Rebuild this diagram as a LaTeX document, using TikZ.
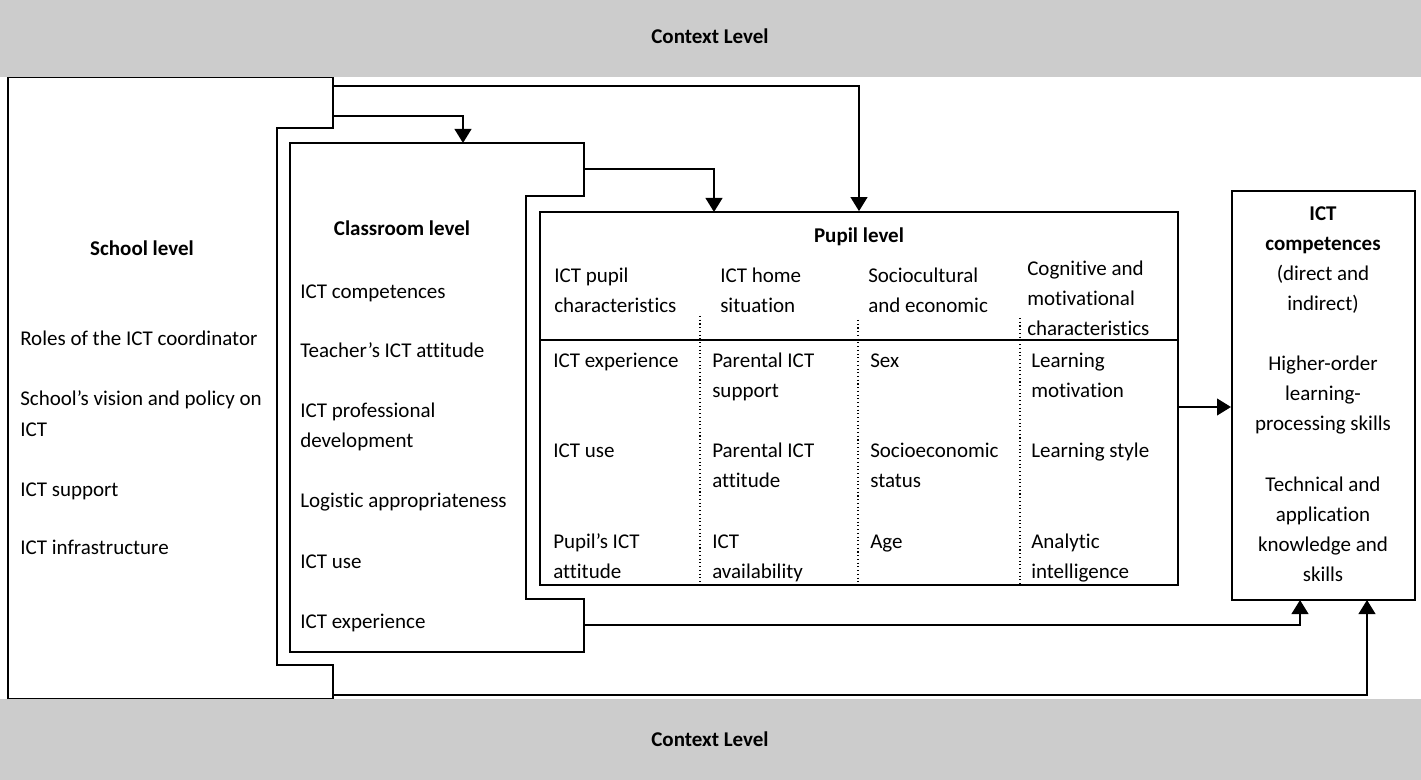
\documentclass[tikz,border=0pt]{standalone}
\usepackage{fontspec}
\setmainfont{Carlito}[Ligatures={TeX,NoCommon}]
\usepackage{tikz}
\usetikzlibrary{arrows.meta}
\usetikzlibrary{fit}

\definecolor{bandgray}{HTML}{CCCCCC}
\newcommand{\txtsize}{\fontsize{15.75}{21}\selectfont}

\begin{document}
\begin{tikzpicture}[
			x=0.75pt, y=-0.75pt,
			every node/.style={inner sep=0pt, font=\txtsize},
			item/.style={anchor=base west},
			mid/.style={anchor=base},
			head/.style={anchor=base, font=\txtsize\bfseries},
			level/.style={draw, line width=1.5pt},
			flow/.style={line width=1.5pt, -{Triangle[length=10.5pt,width=12.5pt]}},
			sep/.style={line width=0.8pt, dotted},
			]
			\useasboundingbox (0,0) rectangle (1421,780);

			\draw[level] (8,77) -- (333,77) -- (333,128) -- (277,128) -- (277,665)
				-- (333,665) -- (333,699) -- (8,699) -- cycle;
			\draw[level] (290,143) -- (584,143) -- (584,196) -- (526,196) -- (526,599)
				-- (584,599) -- (584,652) -- (290,652) -- cycle;
			\node[level, line width=1.3pt, fit={(540,212) (1178,585)}] (pupil) {};
			\node[level, fit={(1232,191) (1415,600)}] (ict) {};

			\draw[line width=1.3pt] (pupil.west |- 0,340) -- (pupil.east |- 0,340);
			\foreach \x/\y in {700/316, 858/320, 1020/318}
				\draw[sep] (\x,\y) -- (\x,585);

			\fill[bandgray] (0,0) rectangle (1421,77);
			\fill[bandgray] (0,699) rectangle (1421,780);
			\node[head] (ctxtop) at (710,44) {Context Level};
			\node[head] (ctxbot) at (710,746) {Context Level};

			\coordinate (schtop) at (333,86);
			\coordinate (schmid) at (333,116);
			\coordinate (schbot) at (333,695);
			\coordinate (clstop) at (584,169);
			\coordinate (clsbot) at (584,625);
			\coordinate (clsin) at (463,143);
			\coordinate (pupin) at (714,212);
			\coordinate (ictinA) at (1300,600);
			\coordinate (ictinB) at (1367,600);

			\draw[flow] (schmid) -| (clsin);
			\draw[flow] (schtop) -| (pupil.north);
			\draw[flow] (clstop) -| (pupin);
			\draw[flow] (pupil.east |- 0,407) -- (ict.west |- 0,407);
			\draw[flow] (clsbot) -| (ictinA);
			\draw[flow] (schbot) -| (ictinB);

			\node[head] (school) at (142,256) {School level};
			\foreach \t/\y [count=\i] in {Roles of the ICT coordinator/340,
				School's vision and policy on/400, ICT/430, ICT support/490,
				ICT infrastructure/548}
				\node[item] (sch\i) at (20,\y+6) {\t};

			\node[head] (classroom) at (402,236) {Classroom level};
			\foreach \t/\y [count=\i] in {ICT competences/293,
				Teacher's ICT attitude/352, ICT professional/412, development/442,
				Logistic appropriateness/502, ICT use/562, ICT experience/622}
				\node[item] (cls\i) at (300,\y+6) {\t};

			\node[head] (pupilhead) at (859,243) {Pupil level};
			\foreach \t/\x/\y [count=\i] in {ICT pupil/554/277, characteristics/554/307,
				ICT home/720/277, situation/720/307,
				Sociocultural/868/277, and economic/868/307,
				Cognitive and/1027/270, motivational/1027/300, characteristics/1027/330}
				\node[item] (ph\i) at (\x,\y+6) {\t};
			\foreach \t/\x/\y [count=\i] in {ICT experience/553/362, ICT use/553/452,
				Pupil's ICT/553/542, attitude/553/572,
				Parental ICT/712/362, support/712/392, Parental ICT/712/452,
				attitude/712/481, ICT/712/542, availability/712/572,
				Sex/870/362, Socioeconomic/870/452, status/870/481, Age/870/542,
				Learning/1031/362, motivation/1031/392, Learning style/1031/452,
				Analytic/1031/542, intelligence/1031/572}
				\node[item] (pb\i) at (\x,\y+6) {\t};

			\node[head] (icthead) at (1323,221) {ICT};
			\node[head] (ictsub) at (1323,251) {competences};
			\foreach \t/\y [count=\i] in {{(direct and}/275, {indirect)}/305,
				Higher-order/365, learning-/395, processing skills/425,
				Technical and/485, application/515, knowledge and/545, skills/575}
				\node[mid] (ictx\i) at (1323,\y+6) {\t};
		\end{tikzpicture}
\end{document}
